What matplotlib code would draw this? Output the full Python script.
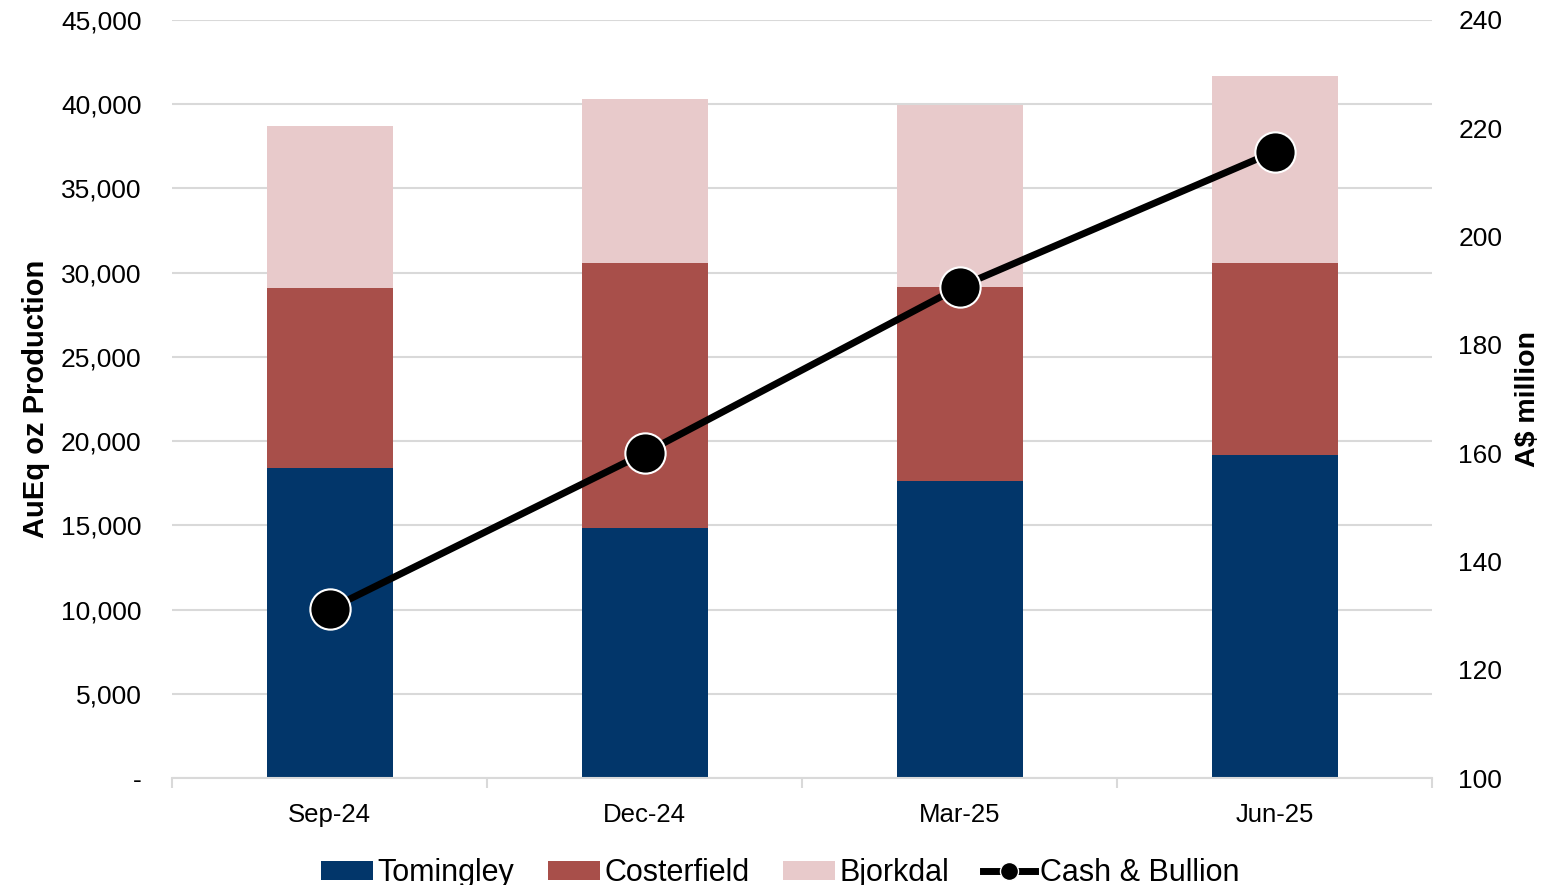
import matplotlib
matplotlib.use("Agg")
import matplotlib.pyplot as plt
from matplotlib import font_manager
from matplotlib.lines import Line2D
from matplotlib.patches import Patch
from matplotlib.ticker import FuncFormatter, FixedLocator
import numpy as np

quarters = ["Sep-24", "Dec-24", "Mar-25", "Jun-25"]
tomingley = [18400, 14850, 17650, 19150]
costerfield = [10700, 15750, 11500, 11400]
bjorkdal = [9600, 9700, 10800, 11150]
cash_bullion = [131.2, 160.0, 190.7, 215.7]

c_tom = "#02366A"
c_cos = "#A84F4A"
c_bjo = "#E8CACB"
grid_c = "#D9D9D9"

names = {f.name for f in font_manager.fontManager.ttflist}
base_font = "Liberation Sans" if "Liberation Sans" in names else "DejaVu Sans"
plt.rcParams["font.family"] = [base_font, "DejaVu Sans"]

fig = plt.figure(figsize=(15.6, 8.85), dpi=100)
ax = fig.add_axes([172/1560, 1 - 778/885, (1432-172)/1560, (778-20)/885])
ax2 = ax.twinx()

x = np.arange(len(quarters))
w = 0.4
b1 = np.array(tomingley)
b2 = b1 + np.array(costerfield)
ax.bar(x, tomingley, w, color=c_tom, zorder=2)
ax.bar(x, costerfield, w, bottom=b1, color=c_cos, zorder=2)
ax.bar(x, bjorkdal, w, bottom=b2, color=c_bjo, zorder=2)

ax.set_xlim(-0.5, 3.5)
ax.set_ylim(0, 45000)
ax.set_yticks(np.arange(0, 45001, 5000))
ax.yaxis.set_major_formatter(FuncFormatter(lambda v, p: "-" if v == 0 else f"{int(v):,}"))
ax.grid(axis="y", color=grid_c, linewidth=1.5, zorder=0)
ax.set_axisbelow(True)
for s in ["top", "right", "left"]:
    ax.spines[s].set_visible(False)
ax.spines["bottom"].set_color(grid_c)
ax.spines["bottom"].set_linewidth(1.5)
ax.set_xticks(x)
ax.set_xticklabels(quarters)
ax.xaxis.set_minor_locator(FixedLocator(np.arange(-0.5, 4.0, 1.0)))
ax.tick_params(axis="x", which="major", length=0, pad=18, labelsize=18.5)
ax.tick_params(axis="x", which="minor", length=7, width=1.5, color=grid_c)
ax.tick_params(axis="y", length=0, pad=22, labelsize=19)
ax.set_ylabel("AuEq oz Production", fontsize=21, fontweight="bold")
ax.yaxis.set_label_coords(-(172-50)/1260, 0.5)

ax2.plot(x, cash_bullion, color="black", linewidth=5, marker="o", markersize=29,
         markerfacecolor="black", markeredgecolor="white", markeredgewidth=1.5, zorder=5)
ax2.set_ylim(100, 240)
ax2.set_yticks(np.arange(100, 241, 20))
for s in ["top", "right", "left", "bottom"]:
    ax2.spines[s].set_visible(False)
ax2.tick_params(axis="y", length=0, pad=19, labelsize=19)
ax2.set_ylabel("A$ million", fontsize=20.5, fontweight="bold")
ax2.yaxis.set_label_coords(1 + (1515-1432)/1260, 0.5)

handles = [
    Patch(facecolor=c_tom, label="Tomingley"),
    Patch(facecolor=c_cos, label="Costerfield"),
    Patch(facecolor=c_bjo, label="Bjorkdal"),
    Line2D([0], [0], color="black", linewidth=5, marker="o", markersize=13,
           markerfacecolor="black", markeredgecolor="white", label="Cash & Bullion"),
]
fig.legend(handles=handles, loc="center", bbox_to_anchor=(0.5, 1 - 873/885), ncol=4,
           frameon=False, prop={"size": 22},
           handlelength=1.7, handleheight=0.6, handletextpad=0.15, columnspacing=1.1)

fig.savefig("out.png", dpi=100)
